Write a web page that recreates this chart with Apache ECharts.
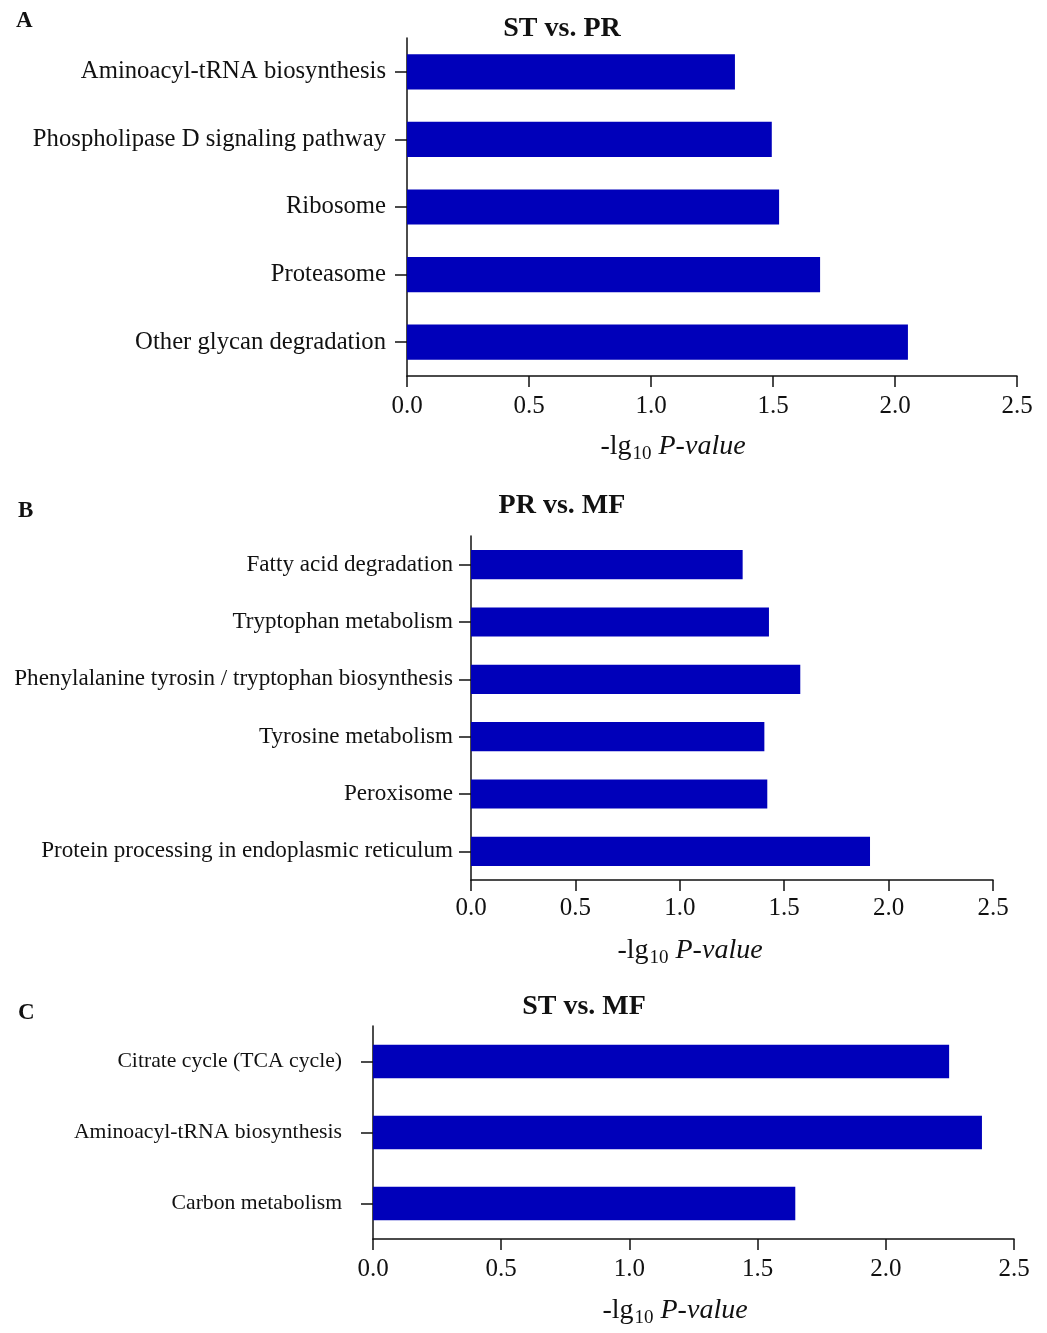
<!DOCTYPE html>
<html>
<head>
<meta charset="utf-8">
<script src="https://cdn.jsdelivr.net/npm/echarts@6/dist/echarts.min.js"></script>
<style>
  html, body { margin: 0; padding: 0; background: #ffffff; }
  #chart { width: 1047px; height: 1333px; }
</style>
</head>
<body>
<div id="chart"></div>
<script>
// KEGG pathway enrichment, -lg10 P-value per comparison
const catsA = ['Aminoacyl-tRNA biosynthesis', 'Phospholipase D signaling pathway', 'Ribosome', 'Proteasome', 'Other glycan degradation'];
const valsA = [1.344, 1.495, 1.525, 1.693, 2.053];

const catsB = ['Fatty acid degradation', 'Tryptophan metabolism', 'Phenylalanine tyrosin / tryptophan biosynthesis', 'Tyrosine metabolism', 'Peroxisome', 'Protein processing in endoplasmic reticulum'];
const valsB = [1.301, 1.427, 1.577, 1.405, 1.419, 1.911];

const catsC = ['Citrate cycle (TCA cycle)', 'Aminoacyl-tRNA biosynthesis', 'Carbon metabolism'];
const valsC = [2.247, 2.375, 1.647];

const panelTitles = ['ST vs. PR', 'PR vs. MF', 'ST vs. MF'];
const panelLetters = ['A', 'B', 'C'];
const xTicks = { min: 0, max: 2.5, interval: 0.5 };

const FONT = '"Liberation Serif", "Times New Roman", serif';
const BAR = '#0000BA';
const INK = '#111111';

const grids = [
  { left: 407, right: 30, top: 38, height: 338 },
  { left: 471, right: 54, top: 536, height: 344 },
  { left: 373, right: 33, top: 1026, height: 213 }
];
const catFont = [24.7, 23.1, 21.7];
const catMargin = [21, 18, 31];
const tickLabelMargin = [18, 16, 18];
const nameGap = [54, 54, 55];
const namePadRight = [78, 84, 37];

function xAxisFor(i) {
  return {
    type: 'value', gridIndex: i,
    min: xTicks.min, max: xTicks.max, interval: xTicks.interval,
    axisLine: { show: true, lineStyle: { color: INK, width: 1.5 } },
    axisTick: { show: true, length: 11, lineStyle: { color: INK, width: 1.5 } },
    splitLine: { show: false },
    axisLabel: {
      color: INK, fontFamily: FONT, fontSize: 25, margin: tickLabelMargin[i],
      formatter: v => v.toFixed(1)
    },
    name: '{n|-lg}{s|10}{i| P-value}',
    nameLocation: 'middle',
    nameGap: nameGap[i],
    nameTextStyle: {
      padding: [0, namePadRight[i], 0, 0],
      rich: {
        n: { fontFamily: FONT, fontSize: 28, color: INK },
        s: { fontFamily: FONT, fontSize: 19, color: INK, padding: [15, 0, 0, 1] },
        i: { fontFamily: FONT, fontSize: 28, fontStyle: 'italic', color: INK }
      }
    }
  };
}

function yAxisFor(i, cats) {
  return {
    type: 'category', gridIndex: i, data: cats, inverse: true,
    axisLine: { show: true, lineStyle: { color: INK, width: 1.5 } },
    axisTick: { show: true, alignWithLabel: true, length: 12, lineStyle: { color: INK, width: 1.5 } },
    axisLabel: { color: INK, fontFamily: FONT, fontSize: catFont[i], margin: catMargin[i] }
  };
}

function barSeries(i, vals, width) {
  return {
    type: 'bar', xAxisIndex: i, yAxisIndex: i, data: vals,
    barWidth: width, itemStyle: { color: BAR }, silent: true
  };
}

const titleTops = [10, 487, 988];
const titleCenters = [557, 557, 579];
const letterPos = [[11, 5], [13, 495], [13, 997]];

const titles = [];
panelTitles.forEach((t, i) => {
  titles.push({
    text: t, left: titleCenters[i], top: titleTops[i], textAlign: 'center',
    textStyle: { fontFamily: FONT, fontSize: 28, fontWeight: 'bold', color: INK }
  });
});
panelLetters.forEach((t, i) => {
  titles.push({
    text: t, left: letterPos[i][0], top: letterPos[i][1],
    textStyle: { fontFamily: FONT, fontSize: 23, fontWeight: 'bold', color: INK }
  });
});

const chart = echarts.init(document.getElementById('chart'), null, { renderer: 'canvas' });
chart.setOption({
  animation: false,
  backgroundColor: '#ffffff',
  title: titles,
  grid: grids.map(g => Object.assign({ containLabel: false }, g)),
  xAxis: [xAxisFor(0), xAxisFor(1), xAxisFor(2)],
  yAxis: [yAxisFor(0, catsA), yAxisFor(1, catsB), yAxisFor(2, catsC)],
  series: [barSeries(0, valsA, '52%'), barSeries(1, valsB, '51%'), barSeries(2, valsC, '47%')]
});
</script>
</body>
</html>
